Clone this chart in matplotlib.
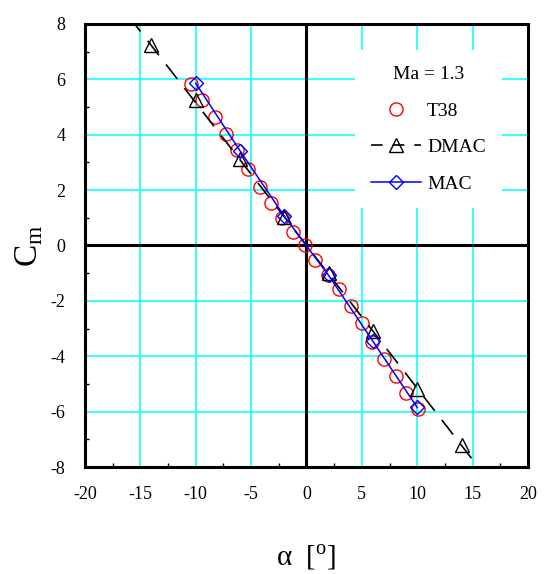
import matplotlib
matplotlib.use("Agg")
import matplotlib.pyplot as plt
from matplotlib.patches import Rectangle
from matplotlib.ticker import MultipleLocator

plt.rcParams['font.family'] = ['Liberation Serif', 'DejaVu Serif']
plt.rcParams['mathtext.fontset'] = 'custom'
plt.rcParams['mathtext.rm'] = 'Liberation Serif'
plt.rcParams['axes.unicode_minus'] = False

#-----------------------------
# DATA
#-----------------------------
t38_alpha = [-10.4, -9.4, -8.3, -7.3, -6.3, -5.3, -4.2, -3.2, -2.2, -1.2, -0.1,
             0.8, 1.9, 2.9, 4.0, 5.0, 5.9, 7.0, 8.1, 9.0, 10.1]
t38_cm = [5.82, 5.26, 4.65, 4.02, 3.45, 2.75, 2.13, 1.55, 0.99, 0.48, 0.02,
          -0.54, -1.05, -1.58, -2.2, -2.8, -3.49, -4.09, -4.7, -5.31, -5.9]

dmac_alpha = [-14, -10, -6, -2, 2, 6, 10, 14]
dmac_cm = [7.25, 5.25, 3.12, 1.04, -1.0, -3.08, -5.18, -7.2]
# fitted DMAC line runs across the whole plot
dmac_line_alpha = [-16, 16]
dmac_line_cm = [8.25, -8.25]

mac_alpha = [-10, -6, -2, 2, 6, 10]
mac_cm = [5.86, 3.42, 1.06, -1.08, -3.46, -5.85]

mach_label = "Ma = 1.3"

#-----------------------------
# FIGURE
#-----------------------------
fig = plt.figure(figsize=(5.54, 5.74), dpi=100)
ax = fig.add_axes([0.1534, 0.1864, 0.7996, 0.7718])

ax.set_xlim(-20, 20)
ax.set_ylim(-8, 8)
ax.xaxis.set_major_locator(MultipleLocator(5))
ax.xaxis.set_minor_locator(MultipleLocator(2.5))
ax.yaxis.set_major_locator(MultipleLocator(2))
ax.yaxis.set_minor_locator(MultipleLocator(1))

ax.set_axisbelow(True)
ax.grid(True, which='major', color='#00ffff', linewidth=1.1)
ax.axhline(0, color='black', linewidth=2.2, zorder=1.2)
ax.axvline(0, color='black', linewidth=2.2, zorder=1.2)

# white box behind the legend
ax.add_patch(Rectangle((0.609, 0.585), 0.332, 0.356, transform=ax.transAxes,
                       facecolor='white', edgecolor='none', zorder=1.1))

for s in ax.spines.values():
    s.set_linewidth(2.2)

ax.tick_params(which='both', direction='in', top=False, right=False,
               labelsize=13, pad=14)
ax.tick_params(which='major', length=0)
ax.tick_params(which='minor', length=3, width=1)

#-----------------------------
# SERIES
#-----------------------------
ax.plot(t38_alpha, t38_cm, linestyle='none', marker='o', ms=9.5,
        mfc='none', mec='red', mew=1.0, label='T38', zorder=3)

ax.plot(dmac_line_alpha, dmac_line_cm, color='black', linewidth=1.2,
        dashes=(11, 7), zorder=3.5)
ax.plot(dmac_alpha, dmac_cm, linestyle='none', marker='^', ms=9.5,
        mfc='none', mec='black', mew=1.0, zorder=3.6)
# legend proxy for DMAC
dmac_proxy, = ax.plot([], [], color='black', linewidth=1.2, dashes=(7, 6),
                      marker='^', ms=9.5, mfc='none', mec='black', mew=1.0,
                      label='DMAC')

ax.plot(mac_alpha, mac_cm, color='blue', linewidth=1.1, marker='D', ms=7.5,
        mfc='none', mec='blue', mew=1.0, label='MAC', zorder=4)

leg = ax.legend(loc='center', bbox_to_anchor=(0.775, 0.762), frameon=False,
                title=mach_label, fontsize=14, title_fontsize=14,
                handlelength=2.6, handletextpad=0.3, labelspacing=0.97)
leg.set_zorder(5)

ax.set_xlabel(r'α  [$^{\mathregular{o}}$]', fontsize=21, labelpad=28)
ax.set_ylabel(r'C$_{\mathregular{m}}$', fontsize=24, labelpad=4)

plt.savefig('out.png', dpi=100)
plt.close()
